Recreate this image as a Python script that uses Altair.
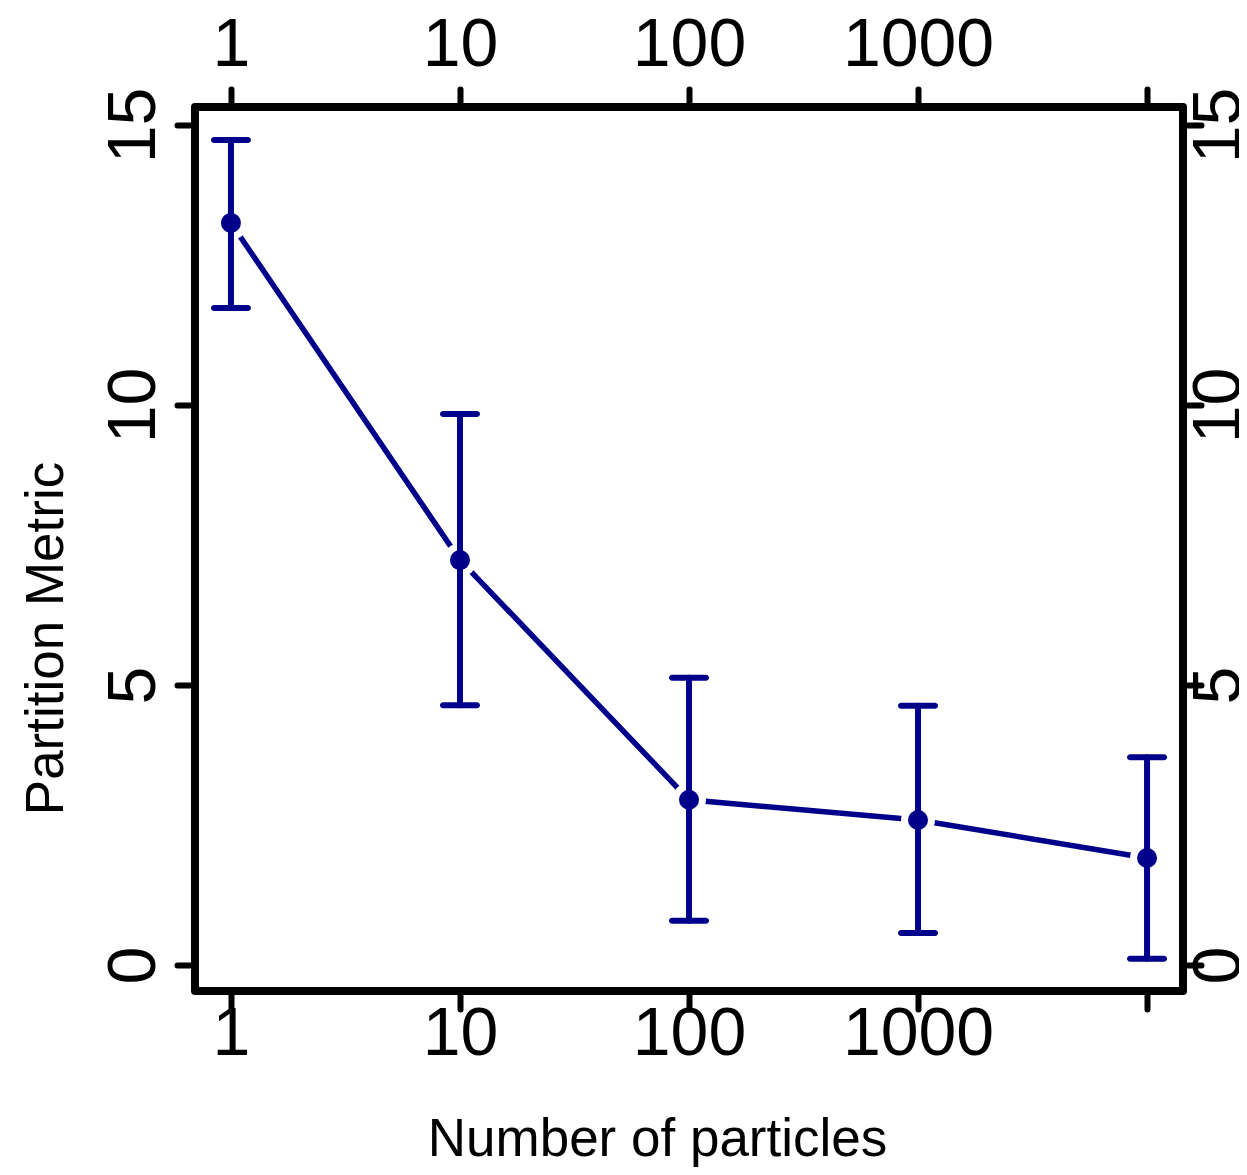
import altair as alt
import pandas as pd

particles = [1, 10, 100, 1000, 10000]
metric = [13.25, 7.23, 2.95, 2.59, 1.91]
upper = [14.73, 9.84, 5.13, 4.63, 3.71]
lower = [11.73, 4.64, 0.79, 0.57, 0.11]

x_ticks = [1, 10, 100, 1000, 10000]
y_ticks = [0, 5, 10, 15]

df = pd.DataFrame({"particles": particles, "metric": metric, "upper": upper, "lower": lower})

NAVY = "#00008B"
FONT = "Liberation Sans"

xs = alt.Scale(type="log", domain=[0.6966, 14355], nice=False, zero=False)
ys = alt.Scale(domain=[-0.464, 15.32], nice=False, zero=False)

common = dict(grid=False, domain=False, tickSize=18, tickWidth=6, tickCap="round",
              tickColor="black", labelFont=FONT, labelFontSize=68, labelColor="black",
              labelOverlap=False, labelFlush=False, labelBound=False)

label_expr = "datum.value >= 10000 ? '' : format(datum.value, 'd')"

bottom_axis = alt.Axis(orient="bottom", values=x_ticks, labelExpr=label_expr,
                       labelBaseline="alphabetic", labelAlign="center", labelPadding=45,
                       title="Number of particles", titleFont=FONT, titleFontSize=53,
                       titleFontWeight="normal", titleColor="black", titleX=462, titleY=164,
                       titleBaseline="alphabetic", titleAlign="center", **common)
top_axis = alt.Axis(orient="top", values=x_ticks, labelExpr=label_expr,
                    labelBaseline="alphabetic", labelAlign="center", labelPadding=24,
                    title=None, **common)
left_axis = alt.Axis(orient="left", values=y_ticks, format="d", labelAngle=270,
                     labelAlign="center", labelBaseline="alphabetic", labelPadding=23,
                     title="Partition Metric", titleFont=FONT, titleFontSize=53,
                     titleFontWeight="normal", titleColor="black", titleAngle=270,
                     titleX=-133, titleY=531, titleBaseline="alphabetic", titleAlign="center",
                     **common)
right_axis = alt.Axis(orient="right", values=y_ticks, format="d", labelAngle=270,
                      labelAlign="center", labelBaseline="alphabetic", labelPadding=38,
                      title=None, **common)

base = alt.Chart(df)

line = base.mark_line(color=NAVY, strokeWidth=5.5).encode(
    x=alt.X("particles:Q", scale=xs, axis=bottom_axis),
    y=alt.Y("metric:Q", scale=ys, axis=left_axis),
)
halo = base.mark_circle(color="white", opacity=1, size=1150).encode(
    x=alt.X("particles:Q", scale=xs, axis=top_axis),
    y=alt.Y("metric:Q", scale=ys, axis=right_axis),
)
rules = base.mark_rule(color=NAVY, strokeWidth=6, strokeCap="round").encode(
    x=alt.X("particles:Q", scale=xs, axis=None),
    y=alt.Y("lower:Q", scale=ys, axis=None),
    y2="upper:Q",
)
cap_top = base.mark_tick(orient="horizontal", size=40, thickness=6, color=NAVY,
                         opacity=1, cornerRadius=3).encode(
    x=alt.X("particles:Q", scale=xs, axis=None),
    y=alt.Y("upper:Q", scale=ys, axis=None),
)
cap_bot = base.mark_tick(orient="horizontal", size=40, thickness=6, color=NAVY,
                         opacity=1, cornerRadius=3).encode(
    x=alt.X("particles:Q", scale=xs, axis=None),
    y=alt.Y("lower:Q", scale=ys, axis=None),
)
points = base.mark_circle(color=NAVY, opacity=1, size=400).encode(
    x=alt.X("particles:Q", scale=xs, axis=None),
    y=alt.Y("metric:Q", scale=ys, axis=None),
)

chart = alt.layer(line, halo, rules, cap_top, cap_bot, points).resolve_axis(
    x="independent", y="independent"
).properties(
    width=988, height=884,
    autosize=alt.AutoSizeParams(type="none"),
    padding={"left": 187, "top": 99, "right": 56, "bottom": 176},
    background="white",
).configure_view(stroke="black", strokeWidth=8, strokeJoin="round")

chart.save("out.html", embed_options={"renderer": "svg", "actions": False})
